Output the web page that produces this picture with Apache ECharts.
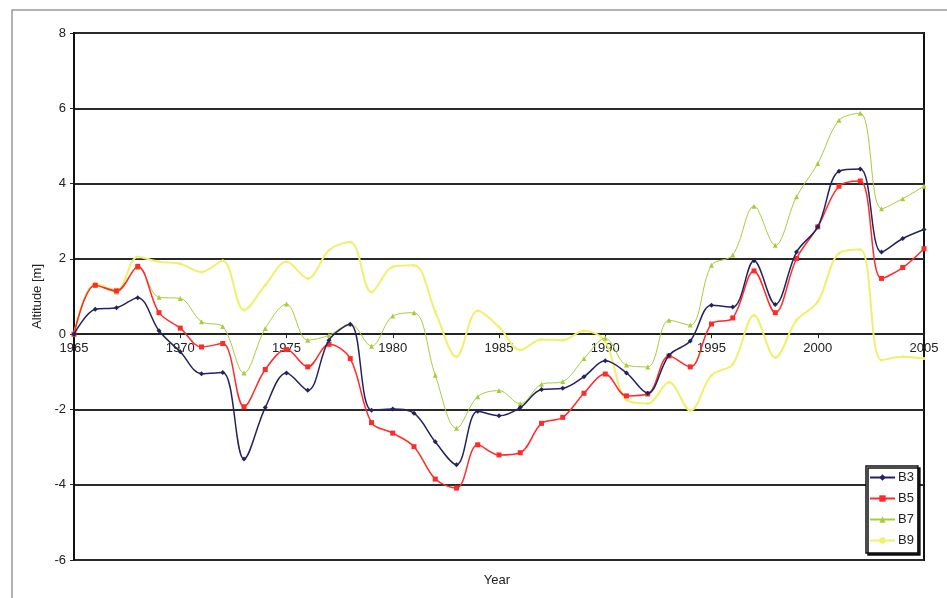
<!DOCTYPE html>
<html>
<head>
<meta charset="utf-8">
<script src="https://cdn.jsdelivr.net/npm/echarts@6/dist/echarts.min.js"></script>
<style>
  html, body { margin: 0; padding: 0; background: #fff; }
  #chart { width: 947px; height: 598px; }
</style>
</head>
<body>
<div id="chart"></div>
<script>
// Survey years
var years = [1965,1966,1967,1968,1969,1970,1971,1972,1973,1974,1975,1976,1977,1978,1979,1980,
  1981,1982,1983,1984,1985,1986,1987,1988,1989,1990,1991,1992,1993,1994,1995,1996,1997,1998,
  1999,2000,2001,2002,2003,2004,2005];

// Altitude change per profile [m]
var b3 = [0,0.66,0.70,0.97,0.09,-0.47,-1.05,-1.02,-3.32,-1.95,-1.03,-1.49,-0.16,0.26,-2.02,-1.99,
  -2.10,-2.86,-3.47,-2.05,-2.17,-1.95,-1.47,-1.44,-1.13,-0.71,-1.03,-1.57,-0.56,-0.18,0.77,0.72,
  1.95,0.79,2.18,2.85,4.33,4.39,2.18,2.54,2.78];
var b5 = [0,1.30,1.15,1.80,0.57,0.16,-0.34,-0.25,-1.93,-0.94,-0.41,-0.87,-0.27,-0.65,-2.35,-2.63,
  -2.99,-3.85,-4.09,-2.94,-3.21,-3.15,-2.37,-2.21,-1.57,-1.06,-1.64,-1.59,-0.58,-0.87,0.27,0.43,
  1.68,0.57,2.01,2.85,3.93,4.07,1.48,1.77,2.27];
var b7 = [0,1.30,1.12,1.77,0.98,0.95,0.33,0.20,-1.03,0.15,0.80,-0.16,-0.03,0.27,-0.32,0.48,
  0.57,-1.09,-2.50,-1.66,-1.50,-1.85,-1.33,-1.26,-0.65,-0.11,-0.82,-0.87,0.37,0.24,1.83,2.10,
  3.40,2.36,3.65,4.53,5.68,5.87,3.33,3.60,3.93];
var b9 = [0,1.34,1.17,2.05,1.92,1.87,1.65,1.95,0.64,1.30,1.92,1.48,2.23,2.45,1.12,1.79,
  1.83,0.60,-0.60,0.62,0.19,-0.42,-0.14,-0.16,0.09,-0.20,-1.75,-1.84,-1.28,-2.03,-1.09,-0.80,
  0.50,-0.62,0.37,0.86,2.15,2.25,-0.69,-0.60,-0.65];

var seriesNames = ['B3','B5','B7','B9'];
var yMin = -6, yMax = 8, yStep = 2;

function pairs(vals) {
  return years.map(function (y, i) { return [y, vals[i]]; });
}

var W = 947, H = 598;
var gridTop = 33, gridBottom = 38;
var plotH = H - gridTop - gridBottom;
// the year axis crosses the altitude axis at 0
var zeroOffset = -plotH * (0 - yMin) / (yMax - yMin);

var chart = echarts.init(document.getElementById('chart'), null, { renderer: 'canvas' });
var font = 'Liberation Sans, Arial, sans-serif';

function line(name, vals, color, width, symbol, size, z) {
  return {
    name: name, type: 'line', data: pairs(vals), smooth: 0.35,
    symbol: symbol, symbolSize: size, z: z,
    lineStyle: { color: color, width: width },
    itemStyle: { color: color },
    emphasis: { disabled: true }
  };
}

chart.setOption({
  animation: false,
  backgroundColor: '#fff',
  textStyle: { fontFamily: font },
  graphic: [
    { type: 'rect', shape: { x: 12, y: 10, width: 950, height: 600 },
      style: { fill: 'none', stroke: '#9a9a9a', lineWidth: 1.5 }, z: -1 },
    { type: 'text', x: 497, y: 580,
      style: { text: 'Year', font: '13px ' + font, fill: '#222', textAlign: 'center', textVerticalAlign: 'middle' } }
  ],
  grid: { left: 74, right: 23, top: gridTop, bottom: gridBottom, show: true, borderColor: '#111', borderWidth: 2, backgroundColor: '#fff' },
  xAxis: {
    type: 'value', min: 1965, max: 2005, interval: 5,
    position: 'bottom', offset: zeroOffset,
    axisLine: { onZero: false, lineStyle: { color: '#222', width: 2 } },
    axisTick: { show: true, length: 4, lineStyle: { color: '#222' } },
    axisLabel: { color: '#222', fontSize: 13, margin: 8, formatter: function (v) { return String(v); } },
    splitLine: { show: false }
  },
  yAxis: {
    type: 'value', min: yMin, max: yMax, interval: yStep,
    name: 'Altitude [m]', nameLocation: 'middle', nameGap: 30, nameRotate: 90,
    nameTextStyle: { color: '#222', fontSize: 13 },
    axisLine: { show: true, lineStyle: { color: '#111', width: 2 } },
    axisTick: { show: true, length: 4, lineStyle: { color: '#222' } },
    axisLabel: { color: '#222', fontSize: 13, margin: 8 },
    splitLine: { show: true, lineStyle: { color: '#2a2a2a', width: 2 } }
  },
  legend: {
    data: seriesNames, orient: 'vertical', left: 866, top: 466,
    width: 56, padding: [5, 4, 6, 3], itemWidth: 25, itemHeight: 8, itemGap: 8,
    backgroundColor: '#fff', borderColor: '#111', borderWidth: 1.5,
    shadowColor: '#111', shadowBlur: 0, shadowOffsetX: 2, shadowOffsetY: 2,
    textStyle: { color: '#222', fontSize: 13, padding: [0, 0, 0, -2] }
  },
  series: [
    line('B9', b9, '#eef06e', 2, 'circle', 3, 2),
    line('B7', b7, '#a9cc3c', 1, 'triangle', 5, 3),
    line('B5', b5, '#ff2a2a', 1.5, 'rect', 5, 4),
    line('B3', b3, '#23235f', 1.5, 'diamond', 5, 5)
  ]
});
</script>
</body>
</html>
